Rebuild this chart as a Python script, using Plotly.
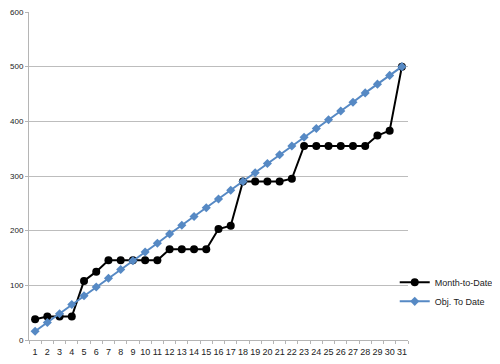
import plotly.graph_objects as go

days = [str(d) for d in range(1, 32)]
month_to_date = [38, 43, 43, 43, 108, 125, 146, 146, 146, 146, 146, 166, 166, 166, 166,
                 203, 209, 290, 290, 290, 290, 295, 355, 355, 355, 355, 355, 355, 374, 383, 500]
obj_to_date = [16, 32, 48, 65, 81, 97, 113, 129, 145, 161, 177, 194, 210, 226, 242, 258,
               274, 290, 306, 323, 339, 355, 371, 387, 403, 419, 435, 452, 468, 484, 500]
y_ticks = [0, 100, 200, 300, 400, 500, 600]

fig = go.Figure()
fig.add_trace(go.Scatter(
    x=days, y=month_to_date, name="Month-to-Date", mode="lines+markers",
    line=dict(color="black", width=2),
    marker=dict(symbol="circle", size=8, color="black"),
))
fig.add_trace(go.Scatter(
    x=days, y=obj_to_date, name="Obj. To Date", mode="lines+markers",
    line=dict(color="#5689C4", width=2),
    marker=dict(symbol="diamond", size=7, color="#5689C4"),
))

# page body has an 8px margin, so the figure is sized/offset to compensate
fig.update_layout(
    width=492, height=356,
    margin=dict(l=21, r=92, t=4, b=24, autoexpand=False),
    paper_bgcolor="white", plot_bgcolor="white",
    font=dict(family="Liberation Sans, Arial, sans-serif", size=9, color="#222"),
    legend=dict(x=0.965, xanchor="left", y=0.22, yanchor="top",
                font=dict(size=9), itemwidth=30,
                bgcolor="rgba(0,0,0,0)"),
    showlegend=True,
)
fig.update_xaxes(
    type="category", showgrid=False, showline=True, linecolor="#b5b5b5", linewidth=1,
    ticks="outside", tickson="boundaries", ticklen=3, tickcolor="#b5b5b5",
    tickfont=dict(size=9), range=[-0.5, 30.5], tickangle=0, automargin=False,
    ticklabelstandoff=3,
)
fig.update_yaxes(
    range=[0, 600], tickvals=y_ticks, showgrid=True, gridcolor="#bdbdbd", gridwidth=1,
    showline=True, linecolor="#b5b5b5", linewidth=1, ticks="outside", ticklen=3,
    tickcolor="#b5b5b5", tickfont=dict(size=8), zeroline=False, automargin=False,
    ticklabeloverflow="allow",
)

fig.write_html("out.html")
